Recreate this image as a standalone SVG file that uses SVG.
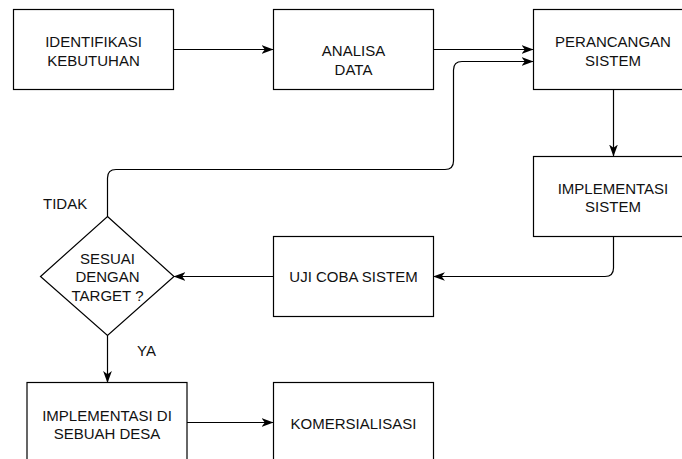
<svg xmlns="http://www.w3.org/2000/svg" width="682" height="459" viewBox="0 0 682 459">
<style>
.box{fill:#fff;stroke:#000;stroke-width:1.2}
.lbl{font-family:"Liberation Sans",Arial,sans-serif;font-size:15px;fill:#111;text-anchor:middle}
.free{font-family:"Liberation Sans",Arial,sans-serif;font-size:15px;fill:#111}
.edge{fill:none;stroke:#000;stroke-width:1.2}
</style>
<defs>
<marker id="arr" markerUnits="userSpaceOnUse" markerWidth="12" markerHeight="10" viewBox="0 0 11 8" refX="10.5" refY="4" orient="auto">
<path d="M0,0 L11,4 L0,8 L3,4 Z" fill="#000"/>
</marker>
</defs>
<rect width="682" height="459" fill="#fff"/>
<g id="connectors">
<path class="edge" d="M173.5,49.5 L273,49.5" marker-end="url(#arr)"/>
<path class="edge" d="M433.5,49.5 L533,49.5" marker-end="url(#arr)"/>
<path class="edge" d="M613.5,89.5 L613.5,156" marker-end="url(#arr)"/>
<path class="edge" d="M613.5,236.5 L613.5,268 Q613.5,276.5 605,276.5 L433.5,276.5" marker-end="url(#arr)"/>
<path class="edge" d="M273.5,276.5 L174,276.5" marker-end="url(#arr)"/>
<path class="edge" d="M107.5,216.5 L107.5,178 Q107.5,169.5 116,169.5 L445,169.5 Q453.5,169.5 453.5,161 L453.5,70 Q453.5,61.5 462,61.5 L533,61.5" marker-end="url(#arr)"/>
<path class="edge" d="M107.5,335.5 L107.5,382.5" marker-end="url(#arr)"/>
<path class="edge" d="M187,422.5 L273,422.5" marker-end="url(#arr)"/>
</g>
<g id="n-identifikasi">
<rect class="box" x="13.5" y="9.5" width="160" height="80"/>
<text class="lbl" x="93.5" y="46.5">IDENTIFIKASI</text>
<text class="lbl" x="93.5" y="65.5">KEBUTUHAN</text>
</g>
<g id="n-analisa">
<rect class="box" x="273.5" y="9.5" width="160" height="80"/>
<text class="lbl" x="353.5" y="55.5">ANALISA</text>
<text class="lbl" x="353.5" y="74.5">DATA</text>
</g>
<g id="n-perancangan">
<rect class="box" x="533.5" y="9.5" width="160" height="80"/>
<text class="lbl" x="613" y="46.5">PERANCANGAN</text>
<text class="lbl" x="613" y="65.5">SISTEM</text>
</g>
<g id="n-implementasi-sistem">
<rect class="box" x="533.5" y="156.5" width="160" height="80"/>
<text class="lbl" x="613" y="193.5">IMPLEMENTASI</text>
<text class="lbl" x="613" y="212">SISTEM</text>
</g>
<g id="n-uji">
<rect class="box" x="273.5" y="236.5" width="160" height="80"/>
<text class="lbl" x="353.5" y="281.5">UJI COBA SISTEM</text>
</g>
<g id="n-sesuai">
<polygon class="box" points="107.5,216.5 174,276.5 107.5,335.5 40.5,276.5"/>
<text class="lbl" x="107.5" y="263.5">SESUAI</text>
<text class="lbl" x="107.5" y="282">DENGAN</text>
<text class="lbl" x="107.5" y="300.5">TARGET ?</text>
</g>
<g id="n-impl-desa">
<rect class="box" x="27" y="382.5" width="160" height="80"/>
<text class="lbl" x="107" y="420.5">IMPLEMENTASI DI</text>
<text class="lbl" x="107" y="439">SEBUAH DESA</text>
</g>
<g id="n-komersialisasi">
<rect class="box" x="273.5" y="382.5" width="160" height="80"/>
<text class="lbl" x="353.5" y="428.5">KOMERSIALISASI</text>
</g>
<g id="edge-labels">
<text class="free" x="43" y="208.5">TIDAK</text>
<text class="free" x="137" y="356">YA</text>
</g>
</svg>
